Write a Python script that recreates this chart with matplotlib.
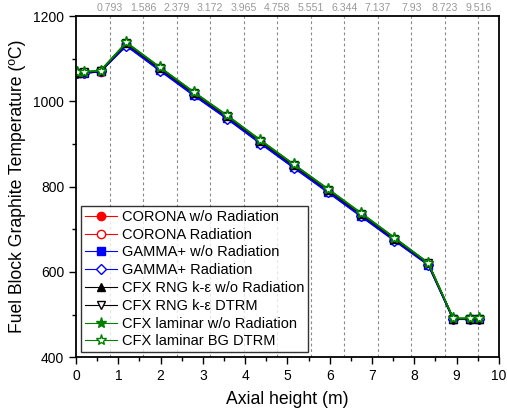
import matplotlib

matplotlib.use("Agg")
import matplotlib.pyplot as plt
from matplotlib.ticker import MultipleLocator

plt.rcParams["font.family"] = ["Liberation Sans", "DejaVu Sans"]

# axial positions of the data points (m)
height = [0.03, 0.19, 0.58, 1.19, 1.98, 2.78, 3.57, 4.36, 5.15, 5.95, 6.74, 7.53, 8.33, 8.92, 9.32, 9.52]

# graphite temperature (°C) per code / model
corona_norad = [1066, 1067, 1070, 1135, 1077, 1019, 964, 906, 849, 792, 735, 677, 619, 490, 490, 490]
corona_rad = [1066, 1067, 1069, 1134, 1076, 1018, 963, 905, 848, 791, 734, 676, 618, 490, 490, 490]
gamma_norad = [1066, 1066, 1070, 1131, 1073, 1015, 960, 902, 845, 788, 731, 674, 617, 489, 489, 489]
gamma_rad = [1066, 1066, 1070, 1130, 1072, 1014, 959, 901, 844, 787, 730, 673, 616, 489, 489, 489]
rng_norad = [1067, 1068, 1071, 1136, 1078, 1020, 965, 907, 850, 793, 736, 678, 620, 490, 490, 490]
rng_dtrm = [1067, 1068, 1071, 1136, 1078, 1020, 965, 907, 850, 793, 736, 678, 620, 490, 490, 490]
lam_norad = [1068, 1069, 1072, 1138, 1080, 1022, 967, 909, 852, 795, 738, 680, 621, 491, 491, 491]
lam_bg = [1068, 1069, 1072, 1138, 1080, 1022, 967, 909, 852, 795, 738, 680, 621, 491, 491, 491]

# block boundaries shown on the top axis
blocks = [0.793, 1.586, 2.379, 3.172, 3.965, 4.758, 5.551, 6.344, 7.137, 7.93, 8.723, 9.516]
block_labels = ["0.793", "1.586", "2.379", "3.172", "3.965", "4.758", "5.551", "6.344", "7.137", "7.93", "8.723", "9.516"]

series = [
    ("CORONA w/o Radiation", corona_norad, "red", "o", "red"),
    ("CORONA Radiation", corona_rad, "red", "o", "white"),
    ("GAMMA+ w/o Radiation", gamma_norad, "blue", "s", "blue"),
    ("GAMMA+ Radiation", gamma_rad, "blue", "D", "white"),
    ("CFX RNG k-ε w/o Radiation", rng_norad, "black", "^", "black"),
    ("CFX RNG k-ε DTRM", rng_dtrm, "black", "v", "white"),
    ("CFX laminar w/o Radiation", lam_norad, "green", "*", "green"),
    ("CFX laminar BG DTRM", lam_bg, "green", "*", "white"),
]

fig = plt.figure(figsize=(5.07, 4.11), dpi=100)
ax = fig.add_axes([0.150, 0.131, 0.834, 0.830])

for x in blocks:
    ax.axvline(x, color="#888888", lw=0.8, ls=(0, (2.5, 2.5)), zorder=0)

for label, vals, color, marker, face in series:
    ms = 8 if marker == "*" else 6
    if marker == "D":
        ms = 5
    ax.plot(height, vals, color=color, lw=1.2, marker=marker, ms=ms,
            mfc=face, mec=color, mew=1.0, label=label)

ax.set_xlim(0, 10)
ax.set_ylim(400, 1200)
ax.xaxis.set_major_locator(MultipleLocator(1))
ax.xaxis.set_minor_locator(MultipleLocator(0.5))
ax.yaxis.set_major_locator(MultipleLocator(200))
ax.yaxis.set_minor_locator(MultipleLocator(100))
ax.tick_params(which="both", direction="out", labelsize=10, width=1.0)
ax.tick_params(which="major", length=5)
ax.tick_params(which="minor", length=3)
ax.tick_params(top=False, right=False)
for sp in ax.spines.values():
    sp.set_linewidth(1.3)

ax.set_xlabel("Axial height (m)", fontsize=12.7, labelpad=6)
ax.set_ylabel("Fuel Block Graphite Temperature (ºC)", fontsize=12.7, labelpad=5)

top = ax.secondary_xaxis("top")
top.set_xticks(blocks, block_labels)
top.tick_params(length=0, labelsize=7.6, labelcolor="#999999", pad=2)
top.spines["top"].set_visible(False)

leg = ax.legend(loc="lower left", fontsize=10.5, frameon=True, fancybox=False,
                edgecolor="black", handlelength=2.2, handletextpad=0.35,
                labelspacing=0.26, borderpad=0.25, borderaxespad=0.35)
leg.get_frame().set_linewidth(1.0)
for line in leg.get_lines():
    line.set_linewidth(0.8)

fig.savefig("out.png", dpi=100)
